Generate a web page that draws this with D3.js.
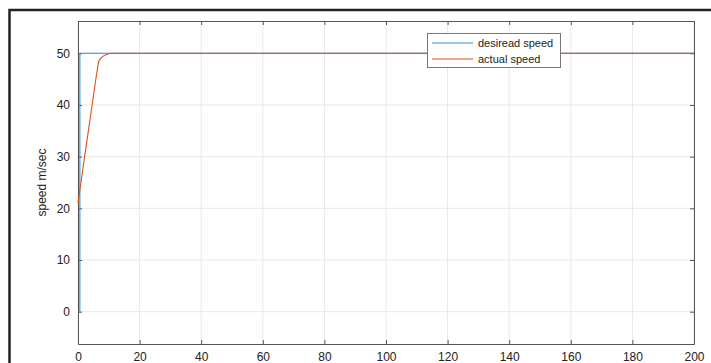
<!DOCTYPE html>
<html><head><meta charset="utf-8">
<script src="https://cdn.jsdelivr.net/npm/d3@7"></script>
<style>body{margin:0;background:#fff;}svg{display:block;font-family:"Liberation Sans",Arial,sans-serif;}</style>
</head><body>
<svg id="c" width="711" height="363"></svg>
<script>
const xTicks = [0,20,40,60,80,100,120,140,160,180,200];
const yTicks = [0,10,20,30,40,50];
const desiredX = [0, 0.6, 0.6, 200];
const desiredY = [0, 0, 50, 50];
const actualX = [0, 1, 2, 3, 4, 5, 6, 6.8, 7.5, 8.5, 9.5, 10.5, 11.5, 200];
const actualY = [21, 25.2, 29.4, 33.5, 37.6, 41.7, 45.8, 48.5, 49.1, 49.55, 49.8, 49.95, 50, 50];
const seriesNames = ["desiread speed", "actual speed"];
const colors = ["#2f8fcf", "#D95319"];

const svg = d3.select("#c");
const L = 78, R = 694, T = 21, B = 344;
const x = d3.scaleLinear().domain([0,200]).range([L,R]);
const y = d3.scaleLinear().domain([-6.25,56.25]).range([B,T]);

// frame
svg.append("rect").attr("x",9.5).attr("y",10).attr("width",720).attr("height",400)
  .attr("fill","#fff").attr("stroke","#222").attr("stroke-width",2.5);

// grid
svg.append("g").selectAll("line").data(xTicks).join("line")
  .attr("x1",d=>x(d)).attr("x2",d=>x(d)).attr("y1",T).attr("y2",B)
  .attr("stroke","#e8e8e8").attr("stroke-width",1);
svg.append("g").selectAll("line").data(yTicks).join("line")
  .attr("y1",d=>y(d)).attr("y2",d=>y(d)).attr("x1",L).attr("x2",R)
  .attr("stroke","#e8e8e8").attr("stroke-width",1);

// axes
const axStyle = g => {
  g.select(".domain").attr("stroke","#555");
  g.selectAll(".tick line").attr("stroke","#555");
  g.selectAll("text").attr("fill","#222").attr("font-size",12);
};
svg.append("g").attr("transform",`translate(0,${B})`)
  .call(d3.axisBottom(x).tickValues(xTicks).tickSizeInner(-4).tickSizeOuter(0).tickPadding(8))
  .call(axStyle);
svg.append("g").attr("transform",`translate(0,${T})`)
  .call(d3.axisTop(x).tickValues(xTicks).tickSizeInner(-4).tickSizeOuter(0).tickFormat(""))
  .call(axStyle);
svg.append("g").attr("transform",`translate(${L},0)`)
  .call(d3.axisLeft(y).tickValues(yTicks).tickSizeInner(-4).tickSizeOuter(0).tickPadding(8))
  .call(axStyle);
svg.append("g").attr("transform",`translate(${R},0)`)
  .call(d3.axisRight(y).tickValues(yTicks).tickSizeInner(-4).tickSizeOuter(0).tickFormat(""))
  .call(axStyle);

// lines
const line = d3.line().x(d=>x(d[0])).y(d=>y(d[1]));
const desired = desiredX.map((v,i)=>[v,desiredY[i]]);
const actual = actualX.map((v,i)=>[v,actualY[i]]);
svg.append("path").datum(desired).attr("d",line).attr("fill","none")
  .attr("stroke",colors[0]).attr("stroke-width",1.1);
svg.append("path").datum(actual).attr("d",line.curve(d3.curveMonotoneX)).attr("fill","none")
  .attr("stroke",colors[1]).attr("stroke-width",1.1);

// y label
svg.append("text").attr("transform",`translate(45.5,${(T+B)/2}) rotate(-90)`)
  .attr("text-anchor","middle").attr("font-size",12).attr("fill","#222").text("speed m/sec");

// legend
const lg = svg.append("g");
lg.append("rect").attr("x",427.5).attr("y",33.5).attr("width",133).attr("height",34)
  .attr("fill","#fff").attr("stroke","#777").attr("stroke-width",1);
seriesNames.forEach((n,i)=>{
  const yy = 43 + i*16;
  lg.append("line").attr("x1",432).attr("x2",473).attr("y1",yy).attr("y2",yy)
    .attr("stroke",colors[i]).attr("stroke-width",1.1);
  lg.append("text").attr("x",478).attr("y",yy+4).attr("font-size",11).attr("fill","#222").text(n);
});
</script>
</body></html>
